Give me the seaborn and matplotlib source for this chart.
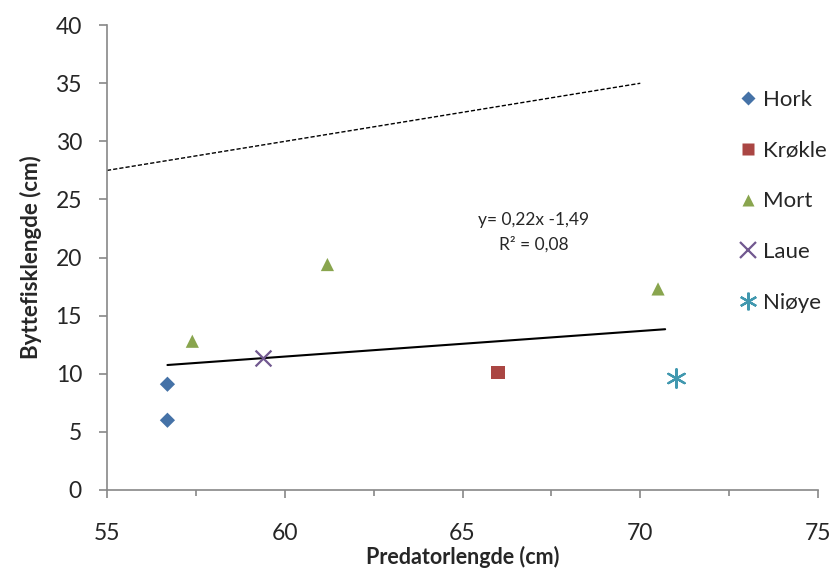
import matplotlib
matplotlib.use("Agg")
import matplotlib.pyplot as plt
from matplotlib.lines import Line2D
import seaborn as sns
import numpy as np
import pandas as pd
from matplotlib.ticker import MultipleLocator

species = ["Hork", "Krøkle", "Mort", "Laue", "Niøye"]
pred_len = {
    "Hork": [56.7, 56.7],
    "Krøkle": [66.0],
    "Mort": [57.4, 61.2, 70.5],
    "Laue": [59.4],
    "Niøye": [71.0],
}
prey_len = {
    "Hork": [9.1, 6.0],
    "Krøkle": [10.1],
    "Mort": [12.8, 19.4, 17.3],
    "Laue": [11.4],
    "Niøye": [9.6],
}
colors = {"Hork": "#4572A7", "Krøkle": "#AA4643", "Mort": "#89A54E",
          "Laue": "#71588F", "Niøye": "#4198AF"}
markers = {"Hork": "D", "Krøkle": "s", "Mort": "^", "Laue": "x", "Niøye": (6, 2, 0)}
sizes = {"Hork": 60, "Krøkle": 90, "Mort": 90, "Laue": 130, "Niøye": 180}

max_line_x = [55, 70]
max_line_y = [27.5, 35]
trend_x = [56.7, 70.7]
trend_slope = 0.22
trend_intercept = -1.72

sns.set_theme(style="white")
plt.rcParams['font.family'] = ['Lato', 'DejaVu Sans']

fig = plt.figure(figsize=(8.32, 5.72), dpi=100)
ax = fig.add_axes([0.1286, 0.1434, 0.8546, 0.8126])

handles = []
for sp in species:
    df = pd.DataFrame({"x": pred_len[sp], "y": prey_len[sp]})
    filled = sp not in ("Laue", "Niøye")
    kw = dict(edgecolor="none") if filled else dict(linewidth=1.6)
    sns.scatterplot(data=df, x="x", y="y", ax=ax, color=colors[sp], marker=markers[sp],
                    s=sizes[sp], zorder=3, legend=False, **kw)
    if filled:
        h = Line2D([], [], linestyle="none", marker=markers[sp], color=colors[sp],
                   markeredgecolor="none", markersize=np.sqrt(sizes[sp]) * 0.95, label=sp)
    else:
        h = Line2D([], [], linestyle="none", marker=markers[sp], color=colors[sp],
                   markeredgewidth=1.6, markersize=np.sqrt(sizes[sp]) * 0.95, label=sp)
    handles.append(h)

tx = np.array(trend_x)
sns.lineplot(x=tx, y=trend_slope * tx + trend_intercept, ax=ax, color="black",
             linewidth=1.5, legend=False)
sns.lineplot(x=max_line_x, y=max_line_y, ax=ax, color="black", linewidth=1.0,
             linestyle=(0, (3, 1.5)), legend=False)
if ax.get_legend() is not None:
    ax.get_legend().remove()

ax.text(67.0, 23.2, "y= 0,22x -1,49", ha="center", va="center", fontsize=12.5)
ax.text(67.0, 21.1, "R² = 0,08", ha="center", va="center", fontsize=12.5)

ax.set_xlim(55, 75)
ax.set_ylim(0, 40)
ax.xaxis.set_major_locator(MultipleLocator(5))
ax.xaxis.set_minor_locator(MultipleLocator(2.5))
ax.yaxis.set_major_locator(MultipleLocator(5))
for s in ["top", "right"]:
    ax.spines[s].set_visible(False)
for s in ["left", "bottom"]:
    ax.spines[s].set_color("#888888")
    ax.spines[s].set_linewidth(1.2)
ax.tick_params(axis="both", which="major", direction="out", length=6, width=1.2,
               color="#888888", labelsize=16.5, left=True, bottom=True)
ax.tick_params(axis="x", which="minor", direction="out", length=4, width=1.2,
               color="#888888", bottom=True)
ax.tick_params(axis="x", which="major", pad=18)
ax.tick_params(axis="y", which="major", pad=12)
ax.set_xlabel("Predatorlengde (cm)", fontsize=15.5, fontweight="bold", labelpad=1)
ax.set_ylabel("Byttefisklengde (cm)", fontsize=16, fontweight="bold", labelpad=10)

fig.legend(handles=handles, loc="upper left", bbox_to_anchor=(0.874, 0.858),
           frameon=False, fontsize=16, labelspacing=1.38, handletextpad=0.1,
           handlelength=1.1, borderaxespad=0)

fig.savefig("out.png", dpi=100)
